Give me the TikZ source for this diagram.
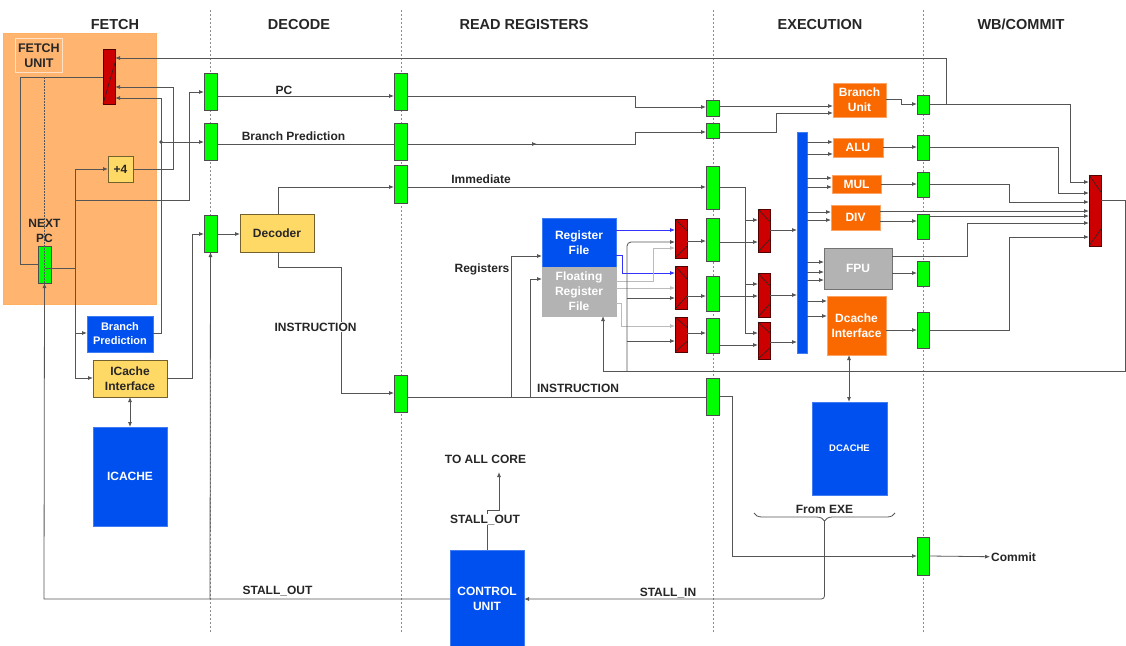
\documentclass[tikz,border=0pt]{standalone}
\usepackage{fontspec}
\setmainfont{Liberation Sans}
\usetikzlibrary{arrows.meta,decorations.pathreplacing,calc}

\definecolor{latchgreen}{HTML}{00FF00}
\definecolor{muxred}{HTML}{CC0000}
\definecolor{unitblue}{HTML}{0050EF}
\definecolor{unitorange}{HTML}{FA6800}
\definecolor{unitgray}{HTML}{B3B3B3}
\definecolor{boxyellow}{HTML}{FFD966}
\definecolor{fetchbg}{HTML}{FFB570}
\definecolor{wire}{HTML}{555555}
\definecolor{lwire}{HTML}{BBBBBB}
\definecolor{bwire}{HTML}{3333FF}

% block from its top-left and bottom-right corners: name, style, x1, y1, x2, y2, text
\newcommand\blk[7]{\node[#2,anchor=north west,minimum width={#5-#3},minimum height={#6-#4}] (#1) at (#3,#4) {#7};}
% the two slanted strokes of a multiplexer symbol
\newcommand\muxmarks[2]{%
  \draw[muxmark] (#1.north west) -- ($(#1.north east)!#2!(#1.south east)$);
  \draw[muxmark] (#1.south west) -- ($(#1.south east)!#2!(#1.north east)$);}

\begin{document}
\begin{tikzpicture}[x=1pt,y=-1pt,
  ln/.style={draw=wire,line width=0.8pt},
  ar/.style={ln,-{Latex[length=5pt,width=4pt]}},
  dar/.style={ln,{Latex[length=5pt,width=4pt]}-{Latex[length=5pt,width=4pt]}},
  latch/.style={draw=black!70,fill=latchgreen,line width=0.7pt,inner sep=0pt,outer sep=0pt},
  mux/.style={draw=black!60!muxred,fill=muxred,line width=0.7pt,inner sep=0pt,outer sep=0pt},
  muxmark/.style={draw=black!85,line width=0.6pt},
  unitfont/.style={font=\bfseries\fontsize{12}{15}\selectfont},
  bbox/.style={unitfont,fill=unitblue,draw=unitblue!75!white,text=white,align=center,inner sep=0pt,outer sep=0pt},
  obox/.style={unitfont,fill=unitorange,draw=unitorange!60!white,text=white,align=center,inner sep=0pt,outer sep=0pt},
  gbox/.style={unitfont,fill=unitgray,draw=black!55,text=white,align=center,inner sep=0pt,outer sep=0pt},
  ybox/.style={unitfont,fill=boxyellow,draw=black!55!boxyellow,text=black!85,align=center,inner sep=0pt,outer sep=0pt},
  fetchbox/.style={fill=fetchbg,draw=fetchbg!90!orange,inner sep=0pt,outer sep=0pt},
  fulbox/.style={draw=white!60!fetchbg,line width=0.8pt,font=\bfseries\fontsize{12.5}{15}\selectfont,text=black!85,align=center,inner sep=0pt},
  lbl/.style={font=\bfseries\fontsize{12}{15}\selectfont,text=black!85,inner sep=1pt},
  hdr/.style={font=\bfseries\fontsize{14.5}{17}\selectfont,text=black!85,inner sep=0pt},
  divider/.style={draw=black!45,line width=0.6pt,dash pattern=on 2pt off 2pt}]

\fill[white] (0,0) rectangle (1126,645);
\useasboundingbox (0,0) rectangle (1126,645);

% stage headers
\node[hdr,anchor=base] (hfetch) at (115,29) {FETCH};
\node[hdr,anchor=base] (hdecode) at (299,29) {DECODE};
\node[hdr,anchor=base] (hread) at (524,29) {READ REGISTERS};
\node[hdr,anchor=base] (hexec) at (820,29) {EXECUTION};
\node[hdr,anchor=base] (hwb) at (1021,29) {WB/COMMIT};

% stage boundaries
\foreach \x in {210,401,713,923}{\draw[divider] (\x,10) -- (\x,633);}

% fetch unit
\blk{fetcharea}{fetchbox}{3}{33}{156}{304}{}
\blk{fulabel}{fulbox}{15}{38}{62}{72}{FETCH\\UNIT}
\blk{fmux}{mux}{103}{49}{115}{104}{}
\draw[muxmark] (fmux.south west) -- ($(fmux.north east)!0.25!(fmux.south east)$);
\blk{plus}{ybox}{108}{156}{133}{182}{+4}
\blk{npc}{latch}{38}{246}{51}{283}{}
\node[lbl,align=center] (npclbl) at (44.5,231) {NEXT\\PC};
\blk{bpred}{bbox,font=\bfseries\fontsize{11}{14}\selectfont}{87}{316}{153}{352}{Branch\\Prediction}
\blk{icif}{ybox}{93}{360}{167}{397}{ICache\\Interface}
\blk{icache}{bbox}{93}{427}{167}{526}{ICACHE}

% decode
\blk{fd1}{latch}{204}{73}{217}{110}{}
\blk{fd2}{latch}{204}{123}{217}{160}{}
\blk{fd3}{latch}{204}{215}{217}{252}{}
\blk{dec}{ybox}{240}{214}{314}{252}{Decoder}

% read registers
\blk{dr1}{latch}{394}{73}{407}{110}{}
\blk{dr2}{latch}{394}{123}{407}{160}{}
\blk{dr3}{latch}{394}{165}{407}{203}{}
\blk{dr4}{latch}{394}{375}{407}{412}{}
\blk{rf}{bbox}{542}{218}{616}{267}{Register\\File}
\blk{frf}{gbox,draw=unitgray}{542}{267}{616}{316}{Floating\\Register\\File}
\blk{rm1}{mux}{675}{219}{687}{258}{}
\blk{rm2}{mux}{675}{266}{687}{309}{}
\blk{rm3}{mux}{675}{317}{687}{352}{}
\muxmarks{rm1}{0.3}
\muxmarks{rm2}{0.3}
\muxmarks{rm3}{0.3}

% execution
\blk{re1}{latch}{706}{100}{719}{116}{}
\blk{re2}{latch}{706}{123}{719}{138}{}
\blk{re3}{latch}{706}{166}{719}{209}{}
\blk{re4}{latch}{706}{218}{719}{261}{}
\blk{re5}{latch}{706}{276}{719}{311}{}
\blk{re6}{latch}{706}{318}{719}{353}{}
\blk{re7}{latch}{706}{378}{719}{415}{}
\blk{em1}{mux}{758}{209}{770}{252}{}
\blk{em2}{mux}{758}{273}{770}{317}{}
\blk{em3}{mux}{758}{322}{770}{359}{}
\muxmarks{em1}{0.3}
\muxmarks{em2}{0.3}
\muxmarks{em3}{0.3}
\blk{bus}{bbox}{797}{132}{807}{353}{}
\blk{bru}{obox}{833}{83}{886}{117}{Branch\\Unit}
\blk{alu}{obox}{833}{138}{883}{157}{ALU}
\blk{mul}{obox}{832}{175}{881}{193}{MUL}
\blk{div}{obox}{831}{205}{880}{230}{DIV}
\blk{fpu}{gbox}{824}{248}{892}{289}{FPU}
\blk{dci}{obox}{827}{296}{886}{355}{Dcache\\Interface}
\blk{dcache}{bbox,font=\bfseries\fontsize{9.5}{12}\selectfont}{812}{402}{887}{495}{DCACHE}

% write back / commit
\blk{wb1}{latch}{917}{95}{929}{114}{}
\blk{wb2}{latch}{917}{135}{929}{160}{}
\blk{wb3}{latch}{917}{172}{929}{197}{}
\blk{wb4}{latch}{917}{214}{929}{239}{}
\blk{wb5}{latch}{917}{261}{929}{286}{}
\blk{wb6}{latch}{917}{312}{929}{348}{}
\blk{wb7}{latch}{917}{537}{929}{575}{}
\blk{wbmux}{mux}{1089}{175}{1101}{246}{}
\muxmarks{wbmux}{0.24}
\node[lbl,anchor=base west] (commit) at (990,561) {Commit};

% control unit
\blk{cu}{bbox}{450}{550}{524}{647}{CONTROL\\UNIT}
\coordinate (allcore) at (499,472);

% ---- fetch wiring
\draw[ln] (fmux.west |- 0,77) -- (20,77) -- (20,264) -- (npc.west |- 0,264);
\draw[ln,dash pattern=on 1.5pt off 1.5pt] (44,77) -- (44,283);
\draw[ln] (45,268) -- (75,268);
\draw[ar] (75,268) -- (75,169) -- (plus.west);
\draw[ar] (75,268) -- (75,378) -- (icif.west |- 0,378);
\draw[ar] (75,333) -- (bpred.west |- 0,333);
\draw[ar] (75,200) -- (189,200) -- (189,92) -- (fd1.west |- 0,92);
\draw[ar] (plus.east) -- (173,169) -- (173,87) -- (fmux.east |- 0,87);
\draw[ar] (bpred.east |- 0,333) -- (161,333) -- (161,98) -- (fmux.east |- 0,98);
\fill[wire] (161,142) circle (1.8);
\draw[ar] (161,142) -- (fd2.west |- 0,142);
\draw[ar] (icif.east |- 0,378) -- (192,378) -- (192,234) -- (fd3.west |- 0,234);
\draw[dar] (icif.south) -- (icache.north);

% ---- decode wiring
\draw[ar] (fd1.east |- 0,96) -- (dr1.west |- 0,96);
\draw[ln] (fd2.east |- 0,144) -- (dr2.west |- 0,144);
\draw[ar] (fd3.east |- 0,234) -- (dec.west |- 0,234);
\draw[ar] (dec.north -| 278,0) -- (278,187) -- (dr3.west |- 0,187);
\draw[ar] (dec.south -| 278,0) -- (278,267) -- (341,267) -- (341,393) -- (dr4.west |- 0,393);

% ---- register read wiring
\draw[ar] (dr1.east |- 0,96) -- (635,96) -- (635,107) -- (re1.west |- 0,107);
\draw[ar] (dr2.east |- 0,144) -- (537,144);
\draw[ar] (534,144) -- (635,144) -- (635,132) -- (re2.west |- 0,132);
\draw[ar] (dr3.east |- 0,187) -- (re3.west |- 0,187);
\draw[ln] (dr4.east |- 0,397) -- (re7.west |- 0,397);
\draw[ar] (511,397) -- (511,256) -- (rf.west |- 0,256);
\draw[ar] (530,397) -- (530,279) -- (frf.west |- 0,279);
\draw[ar,draw=bwire] (rf.east |- 0,230) -- (rm1.west |- 0,230);
\draw[ar,draw=bwire] (rf.east |- 0,255) -- (622,255) -- (622,273) -- (rm2.west |- 0,273);
\draw[ar,draw=lwire] (frf.east |- 0,281) -- (653,281) -- (653,248) -- (rm1.west |- 0,248);
\draw[ar,draw=lwire] (frf.east |- 0,288) -- (rm2.west |- 0,288);
\draw[ar,draw=lwire] (frf.east |- 0,303) -- (621,303) -- (621,326) -- (rm3.west |- 0,326);

% result forwarding loop
\draw[ar] (wbmux.east |- 0,200) -- (1125,200) -- (1125,371) -- (603,371) -- (frf.south -| 603,0);
\draw[ar,rounded corners=4pt] (627,371) -- (627,242) -- (rm1.west |- 0,242);
\draw[ar] (627,298) -- (rm2.west |- 0,298);
\draw[ar] (627,341) -- (rm3.west |- 0,341);
\draw[ar] (rm1.east |- 0,241) -- (re4.west |- 0,241);
\draw[ar] (rm2.east |- 0,296) -- (re5.west |- 0,296);
\draw[ar] (rm3.east |- 0,333) -- (re6.west |- 0,333);

% ---- execution wiring
\draw[ar] (re1.east |- 0,106) -- (bru.west |- 0,106);
\draw[ar] (re2.east |- 0,132) -- (776,132) -- (776,113) -- (bru.west |- 0,113);
\draw[ln] (re3.east |- 0,187) -- (745,187) -- (745,333);
\draw[ar] (745,220) -- (em1.west |- 0,220);
\draw[ar] (745,284) -- (em2.west |- 0,284);
\draw[ar] (745,333) -- (em3.west |- 0,333);
\draw[ar] (re4.east |- 0,242) -- (em1.west |- 0,242);
\draw[ar] (re5.east |- 0,296) -- (em2.west |- 0,296);
\draw[ar] (re6.east |- 0,345) -- (em3.west |- 0,345);
\draw[ar] (em1.east |- 0,230) -- (bus.west |- 0,230);
\draw[ar] (em2.east |- 0,295) -- (bus.west |- 0,295);
\draw[ar] (em3.east |- 0,342) -- (bus.west |- 0,342);
\foreach \y in {142,154}{\draw[ar] (bus.east |- 0,\y) -- (alu.west |- 0,\y);}
\foreach \y in {178,187}{\draw[ar] (bus.east |- 0,\y) -- (mul.west |- 0,\y);}
\foreach \y in {212,220}{\draw[ar] (bus.east |- 0,\y) -- (div.west |- 0,\y);}
\foreach \y in {262,272,280}{\draw[ar] (bus.east |- 0,\y) -- (fpu.west |- 0,\y);}
\foreach \y in {301,316}{\draw[ar] (bus.east |- 0,\y) -- (dci.west |- 0,\y);}
\draw[dar] (dci.south -| 849,0) -- (dcache.north -| 849,0);

% ---- write back wiring
\draw[ar] (bru.east |- 0,99) -- (901,99) -- (901,104) -- (wb1.west |- 0,104);
\draw[ar] (wb1.east |- 0,104) -- (1070,104) -- (1070,182) -- (wbmux.west |- 0,182);
\draw[ar] (946,104) -- (946,58) -- (fmux.east |- 0,58);
\draw[ar] (alu.east |- 0,147) -- (wb2.west |- 0,147);
\draw[ar] (mul.east |- 0,184) -- (wb3.west |- 0,184);
\draw[ar] (div.east |- 0,221) -- (wb4.west |- 0,221);
\draw[ar] (fpu.east |- 0,273) -- (wb5.west |- 0,273);
\draw[ar] (dci.east |- 0,330) -- (wb6.west |- 0,330);
\draw[ar] (fpu.east |- 0,256) -- (967,256) -- (967,223) -- (wbmux.west |- 0,223);
\draw[ar] (wb2.east |- 0,147) -- (1058,147) -- (1058,193) -- (wbmux.west |- 0,193);
\draw[ar] (wb3.east |- 0,184) -- (1009,184) -- (1009,202) -- (wbmux.west |- 0,202);
\draw[ar] (div.east |- 0,211) -- (wbmux.west |- 0,211);
\draw[ar] (wb4.east |- 0,216) -- (wbmux.west |- 0,216);
\draw[ar] (wb6.east |- 0,330) -- (1009,330) -- (1009,237) -- (wbmux.west |- 0,237);

% ---- commit path
\draw[ar] (re7.east |- 0,396) -- (732,396) -- (732,556) -- (wb7.west |- 0,556);
\draw[ar] (wb7.east |- 0,556) -- (commit.west);

% ---- stall signals
\draw[ar] (cu.west |- 0,599) -- (44,599) -- (npc.south);
\draw[ar] (210,599) -- (fd3.south);
\draw[ln,decorate,decoration={brace,mirror,amplitude=8pt}] (754,513) -- (895,513);
\draw[ar,rounded corners=3pt] (824.5,521) -- (824.5,599) -- (cu.east |- 0,599);
\draw[ar] (cu.north -| 487,0) -- (487,510) -- (499,510) -- (allcore);

% ---- wire labels
\node[lbl,anchor=base] (lpc) at (284,94) {PC};
\node[lbl,anchor=base] (lbp) at (293.5,140) {Branch Prediction};
\node[lbl,anchor=base] (limm) at (481,183) {Immediate};
\node[lbl,anchor=base,fill=white] (linst1) at (315.5,331) {INSTRUCTION};
\node[lbl,anchor=base] (lregs) at (482,272) {Registers};
\node[lbl,anchor=base] (linst2) at (578,392) {INSTRUCTION};
\node[lbl,anchor=base] (lall) at (485.5,463) {TO ALL CORE};
\node[lbl,anchor=base,fill=white] (lso1) at (485,523) {STALL\_OUT};
\node[lbl,anchor=base] (lso2) at (277.5,594) {STALL\_OUT};
\node[lbl,anchor=base] (lsi) at (668,596) {STALL\_IN};
\node[lbl,anchor=base] (lexe) at (824.5,513) {From EXE};

\end{tikzpicture}
\end{document}
